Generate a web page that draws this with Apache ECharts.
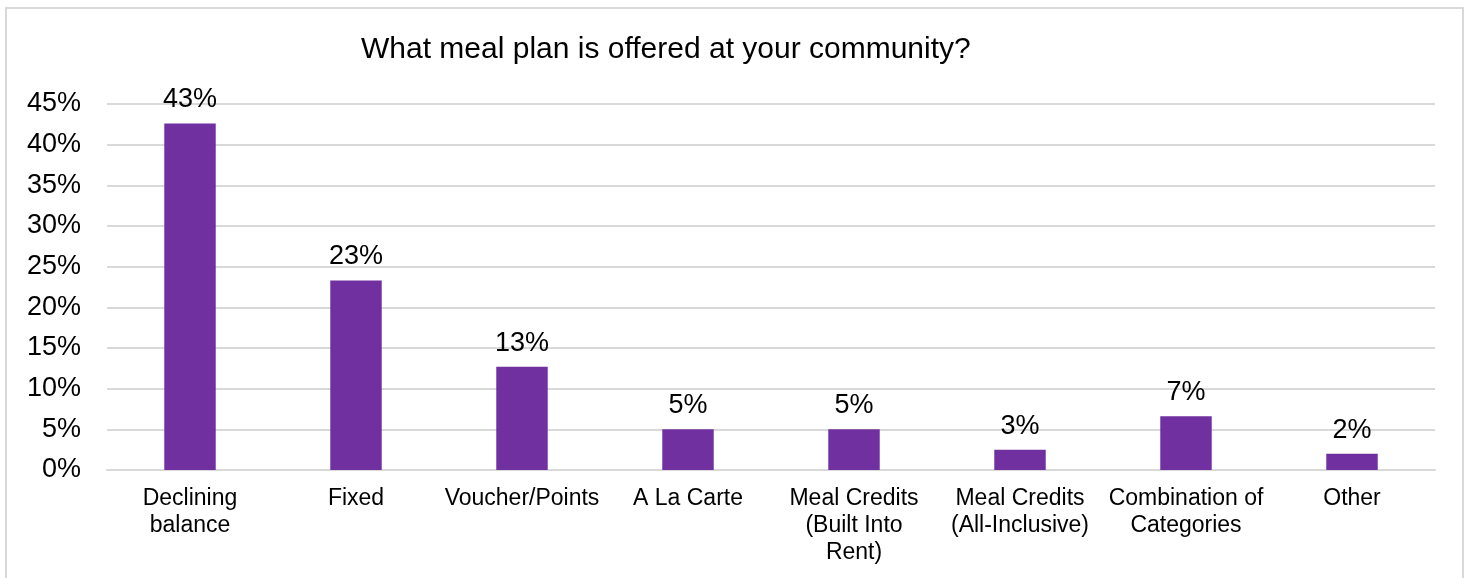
<!DOCTYPE html>
<html>
<head>
<meta charset="utf-8">
<script src="https://cdn.jsdelivr.net/npm/echarts@6/dist/echarts.min.js"></script>
<style>
  html, body { margin: 0; padding: 0; background: #ffffff; }
  #chart { width: 1468px; height: 578px; }
</style>
</head>
<body>
<div id="chart"></div>
<script>
// Meal plan survey responses (share of communities, %)
const categories = [
  'Declining\nbalance',
  'Fixed',
  'Voucher/Points',
  'A La Carte',
  'Meal Credits\n(Built Into\nRent)',
  'Meal Credits\n(All-Inclusive)',
  'Combination of\nCategories',
  'Other'
];
const shares = [42.6, 23.3, 12.7, 5.0, 5.0, 2.5, 6.6, 2.0];
const yTicks = [0, 5, 10, 15, 20, 25, 30, 35, 40, 45];

const FONT = '"Liberation Sans", Arial, sans-serif';
const chart = echarts.init(document.getElementById('chart'), null, { renderer: 'canvas' });

chart.setOption({
  animation: false,
  backgroundColor: '#ffffff',
  graphic: [{
    type: 'rect',
    shape: { x: 6, y: 8, width: 1457, height: 620 },
    style: { fill: 'none', stroke: '#d9d9d9', lineWidth: 2 },
    silent: true
  }],
  title: {
    text: 'What meal plan is offered at your community?',
    left: 356,
    top: 30,
    textStyle: { fontFamily: FONT, fontSize: 30, fontWeight: 'normal', color: '#000000' }
  },
  grid: { left: 107, right: 33, top: 104, bottom: 108, containLabel: false },
  xAxis: {
    type: 'category',
    data: categories,
    axisLine: { show: true, lineStyle: { color: '#d9d9d9', width: 2 } },
    axisTick: { show: false },
    axisLabel: {
      interval: 0,
      margin: 15,
      fontFamily: FONT,
      fontSize: 23,
      lineHeight: 27,
      color: '#000000'
    }
  },
  yAxis: {
    type: 'value',
    min: yTicks[0],
    max: yTicks[yTicks.length - 1],
    interval: 5,
    axisLine: { show: false },
    axisTick: { show: false },
    splitLine: { lineStyle: { color: '#d9d9d9', width: 2 } },
    axisLabel: {
      margin: 26,
      fontFamily: FONT,
      fontSize: 27,
      color: '#000000',
      formatter: v => v + '%'
    }
  },
  series: [{
    type: 'bar',
    data: shares,
    barWidth: '31%',
    itemStyle: { color: '#7030a0' },
    label: {
      show: true,
      position: 'top',
      distance: 10,
      fontFamily: FONT,
      fontSize: 27,
      color: '#000000',
      formatter: p => Math.round(p.value) + '%'
    }
  }]
});
</script>
</body>
</html>
